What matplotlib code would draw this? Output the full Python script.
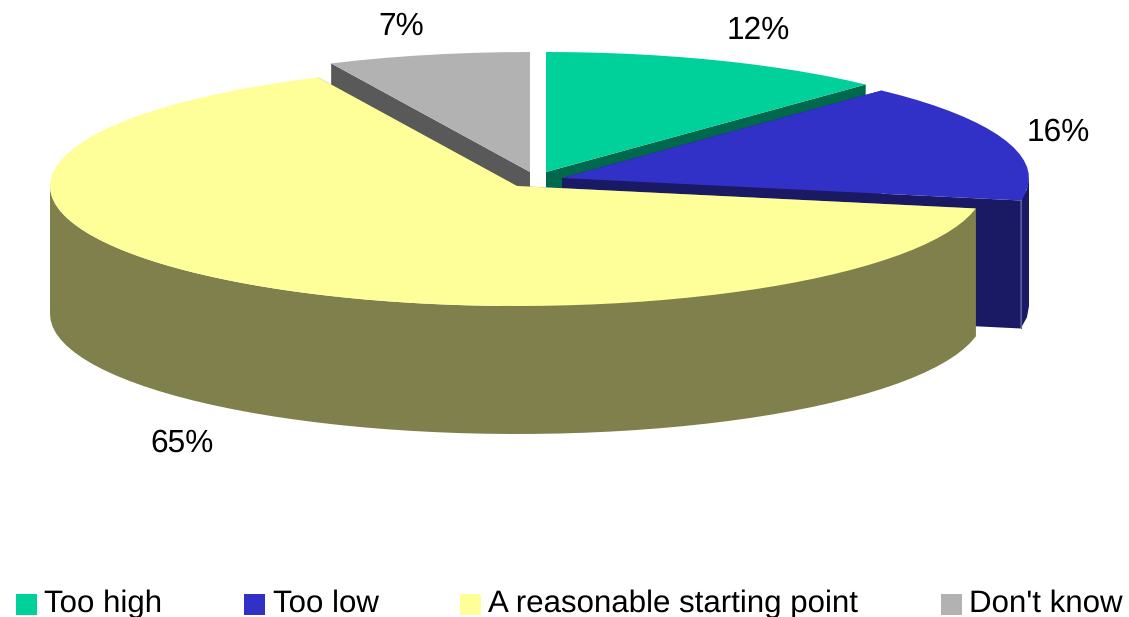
import matplotlib
matplotlib.use('Agg')
import matplotlib.pyplot as plt
import numpy as np
from matplotlib.patches import Rectangle

plt.rcParams['font.family'] = ['Liberation Sans', 'DejaVu Sans']
plt.rcParams['text.hinting'] = 'no_hinting'
plt.rcParams['text.hinting_factor'] = 8

labels = ['Too high', 'Too low', 'A reasonable starting point', "Don't know"]
values = [12, 16, 65, 7]

top_colors = ['#00D09A', '#3131C8', '#FFFF99', '#B2B2B2']
side_colors = ['#00684D', '#1A1A64', '#80804D', '#595959']

# each slice is pulled out a little, so each has its own centre
centers = [(546, 172), (562, 178), (517, 186), (530, 172)]
label_pos = [(758, 31), (1058, 132), (182, 443), (401, 27)]
legend_x = [16, 244, 460, 941]
legend_text_x = [44, 273, 488, 969]

rx = 467
ry = 120
depth = 128

fig = plt.figure(figsize=(11.29, 6.17), dpi=100)
ax = fig.add_axes([0, 0, 1, 1])
ax.set_xlim(0, 1129)
ax.set_ylim(617, 0)
ax.axis('off')


def rim(cx, cy, a0, a1):
    # clockwise from 12 o'clock, coarse steps give the faceted edge
    n = max(int((a1 - a0) / 3), 2)
    t = np.radians(np.linspace(a0, a1, n))
    return cx + rx * np.sin(t), cy - ry * np.cos(t)


angles = np.cumsum([0] + values) * 3.6

# back slices first, the big yellow one goes on top of the others
for i in [3, 0, 1, 2]:
    cx, cy = centers[i]
    x, y = rim(cx, cy, angles[i], angles[i + 1])

    # the two cut faces
    ax.fill([cx, x[0], x[0], cx], [cy, y[0], y[0] + depth, cy + depth], color=side_colors[i], lw=0)
    ax.fill([cx, x[-1], x[-1], cx], [cy, y[-1], y[-1] + depth, cy + depth], color=side_colors[i], lw=0)

    # rim wall, only the part of the arc that faces front
    a0 = max(angles[i], 90)
    a1 = min(angles[i + 1], 270)
    if a1 > a0:
        wx, wy = rim(cx, cy, a0, a1)
        ax.fill(np.r_[wx, wx[::-1]], np.r_[wy, wy[::-1] + depth], color=side_colors[i], lw=0)

    if i == 1:
        # thin highlight where the cut face meets the rim wall
        ax.plot([x[-1], x[-1]], [y[-1], y[-1] + depth], color='#5C5CA8', lw=0.8)

    ax.fill(np.r_[cx, x], np.r_[cy, y], color=top_colors[i], lw=0)

for i in range(len(values)):
    ax.text(label_pos[i][0], label_pos[i][1], '%d%%' % values[i], fontsize=22.8,
            ha='center', va='center', color='black')

    ax.add_patch(Rectangle((legend_x[i], 593.5), 20.5, 21, color=top_colors[i], lw=0))
    ax.text(legend_text_x[i], 612, labels[i], fontsize=22.5, ha='left', va='baseline', color='black')

plt.savefig('out.png', dpi=100)
